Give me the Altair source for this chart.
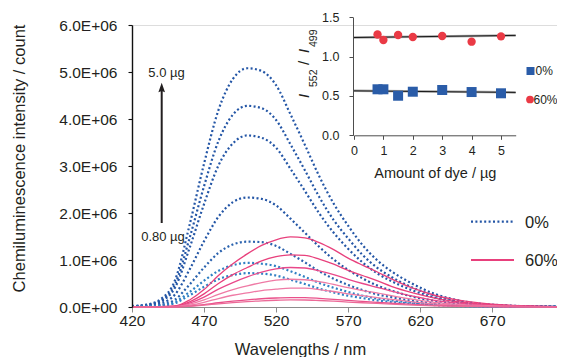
import altair as alt
import pandas as pd

# ---------------- data (intensity in units of 1E+06 counts) ----------------
WL = [420, 430, 440, 450, 460, 470, 480, 490, 500, 510, 520, 530, 540,
      550, 560, 570, 580, 590, 600, 615, 630, 650, 675, 700, 715]

# 0 % curves (dotted blue), from 5.0 ug down to 0.80 ug
B1 = [0.02, 0.05, 0.17, 0.58, 1.75, 3.05, 4.19, 4.85, 5.08, 5.02, 4.72, 4.10, 3.45,
      2.78, 2.20, 1.73, 1.32, 1.00, 0.76, 0.49, 0.28, 0.12, 0.04, 0.015, 0.01]
B2 = [0.017, 0.043, 0.14, 0.49, 1.47, 2.57, 3.53, 4.09, 4.28, 4.23, 3.98, 3.46, 2.91,
      2.34, 1.85, 1.46, 1.11, 0.84, 0.64, 0.41, 0.24, 0.10, 0.034, 0.013, 0.009]
B3 = [0.015, 0.037, 0.12, 0.42, 1.26, 2.19, 3.01, 3.48, 3.65, 3.60, 3.39, 2.94, 2.47,
      1.99, 1.58, 1.24, 0.95, 0.72, 0.55, 0.35, 0.20, 0.088, 0.029, 0.011, 0.007]
B4 = [0.009, 0.023, 0.077, 0.27, 0.80, 1.40, 1.92, 2.23, 2.33, 2.30, 2.16, 1.88, 1.58,
      1.28, 1.01, 0.79, 0.61, 0.46, 0.35, 0.22, 0.13, 0.056, 0.019, 0.007, 0.005]
B5 = [0.006, 0.014, 0.046, 0.16, 0.48, 0.84, 1.15, 1.33, 1.39, 1.38, 1.30, 1.13, 0.95,
      0.76, 0.60, 0.47, 0.36, 0.27, 0.21, 0.13, 0.077, 0.034, 0.011, 0.004, 0.003]
B6 = [0.004, 0.009, 0.031, 0.11, 0.32, 0.56, 0.77, 0.89, 0.94, 0.92, 0.87, 0.76, 0.64,
      0.51, 0.41, 0.32, 0.24, 0.18, 0.14, 0.09, 0.052, 0.023, 0.008, 0.003, 0.002]
B7 = [0.003, 0.007, 0.024, 0.082, 0.25, 0.43, 0.59, 0.68, 0.72, 0.71, 0.67, 0.58, 0.49,
      0.39, 0.31, 0.24, 0.19, 0.14, 0.11, 0.07, 0.04, 0.017, 0.006, 0.002, 0.001]

# 60 % curves (solid pink)
P1 = [0.0, 0.003, 0.009, 0.022, 0.15, 0.37, 0.67, 0.92, 1.13, 1.31, 1.43, 1.49, 1.47,
      1.37, 1.22, 1.04, 0.89, 0.75, 0.60, 0.40, 0.25, 0.13, 0.05, 0.019, 0.01]
P2 = [0.0, 0.002, 0.007, 0.017, 0.11, 0.28, 0.50, 0.69, 0.84, 0.98, 1.07, 1.11, 1.10,
      1.02, 0.91, 0.78, 0.67, 0.56, 0.44, 0.30, 0.19, 0.097, 0.038, 0.014, 0.008]
P3 = [0.0, 0.002, 0.005, 0.013, 0.084, 0.21, 0.38, 0.52, 0.64, 0.74, 0.81, 0.84, 0.83,
      0.77, 0.69, 0.59, 0.50, 0.42, 0.34, 0.23, 0.14, 0.073, 0.029, 0.011, 0.006]
P4 = [0.0, 0.001, 0.004, 0.009, 0.059, 0.15, 0.27, 0.37, 0.45, 0.52, 0.57, 0.59, 0.58,
      0.54, 0.48, 0.41, 0.35, 0.30, 0.24, 0.16, 0.10, 0.051, 0.02, 0.008, 0.004]
P5 = [0.0, 0.001, 0.002, 0.006, 0.04, 0.10, 0.18, 0.25, 0.30, 0.35, 0.38, 0.40, 0.40,
      0.37, 0.33, 0.28, 0.24, 0.20, 0.16, 0.11, 0.068, 0.035, 0.014, 0.005, 0.003]
P6 = [0.0, 0.0, 0.001, 0.003, 0.02, 0.05, 0.09, 0.124, 0.152, 0.176, 0.192, 0.20, 0.198,
      0.184, 0.164, 0.14, 0.12, 0.10, 0.08, 0.054, 0.034, 0.017, 0.007, 0.003, 0.001]
P7 = [0.0, 0.0, 0.001, 0.002, 0.015, 0.038, 0.068, 0.093, 0.114, 0.132, 0.144, 0.15, 0.149,
      0.138, 0.123, 0.105, 0.09, 0.075, 0.06, 0.041, 0.026, 0.013, 0.005, 0.002, 0.001]

BLUE_NAMES = ["b1", "b2", "b3", "b4", "b5", "b6", "b7"]
PINK_NAMES = ["p1", "p2", "p3", "p4", "p5", "p6", "p7"]
BLUE_SERIES = [B1, B2, B3, B4, B5, B6, B7]
PINK_SERIES = [P1, P2, P3, P4, P5, P6, P7]
BLUE_COLORS = ["#2456a6", "#2456a6", "#2456a6", "#2456a6", "#2a62ae", "#3080c4", "#3080c4"]
PINK_COLORS = ["#e8407c", "#e8407c", "#e9488a", "#ef7aa5", "#ef7aa5", "#e9508a", "#ec6a98"]

# inset: ratio I552/I499 vs amount of dye
DYE = [0.8, 1.0, 1.5, 2.0, 3.0, 4.0, 5.0]
RATIO_0 = [0.585, 0.585, 0.503, 0.554, 0.576, 0.55, 0.534]
RATIO_60 = [1.281, 1.211, 1.275, 1.25, 1.262, 1.19, 1.258]
FIT_X = [0.0, 5.5]
FIT_0 = [0.565, 0.545]
FIT_60 = [1.243, 1.27]

Y_TICKS = [0, 1, 2, 3, 4, 5, 6]
X_TICKS = [420, 470, 520, 570, 620, 670]


def long_df(names, series):
    rows = []
    for n, vals in zip(names, series):
        for w, v in zip(WL, vals):
            rows.append({"curve": n, "wl": w, "val": v})
    return pd.DataFrame(rows)


blue_df = long_df(BLUE_NAMES, BLUE_SERIES)
pink_df = long_df(PINK_NAMES, PINK_SERIES)
pts0 = pd.DataFrame({"dye": DYE, "r": RATIO_0})
pts60 = pd.DataFrame({"dye": DYE, "r": RATIO_60})
fit_df = pd.DataFrame({"x": FIT_X, "f0": FIT_0, "f60": FIT_60})

TXT = "#231f20"
FONT = "Liberation Sans"

xscale = alt.Scale(domain=[420, 715], nice=False)
yscale = alt.Scale(domain=[0, 6], nice=False)
xaxis = alt.Axis(values=X_TICKS, grid=False, tickSize=5, labelPadding=1, labelFlush=False,
                 domainColor="#8c8c8c", tickColor="#8c8c8c", domainWidth=1.2,
                 labelColor=TXT, labelFontSize=15.5, title="Wavelengths / nm",
                 titleFontSize=16.5, titleFontWeight="normal", titleColor=TXT,
                 titleX=168, titleY=47, titleBaseline="alphabetic", titleAlign="center")
yaxis = alt.Axis(values=Y_TICKS, grid=False, tickSize=4, labelPadding=11, labelFlush=False,
                 domain=True, domainColor="#111111", domainWidth=1.4, domainOpacity=1,
                 tickColor="#111111", tickWidth=1.1, labelColor=TXT, labelFontSize=15.5,
                 labelExpr="format(datum.value, '.1f') + (datum.value == 0 ? 'E+00' : 'E+06')",
                 title="Chemiluminescence intensity / count", titleFontSize=16.5,
                 titleFontWeight="normal", titleColor=TXT, titleX=-112.5, titleY=133,
                 titleAngle=270, titleBaseline="middle", titleAlign="center", zindex=5)

blue = alt.Chart(blue_df).mark_line(
    strokeDash=[2, 2.4], strokeWidth=2.2, interpolate="monotone"
).encode(
    x=alt.X("wl:Q", scale=xscale, axis=xaxis),
    y=alt.Y("val:Q", scale=yscale, axis=yaxis),
    color=alt.Color("curve:N", scale=alt.Scale(domain=BLUE_NAMES + PINK_NAMES,
                                               range=BLUE_COLORS + PINK_COLORS), legend=None),
    detail="curve:N",
)
pink = alt.Chart(pink_df).mark_line(strokeWidth=1.3, interpolate="monotone").encode(
    x=alt.X("wl:Q", scale=xscale, axis=xaxis),
    y=alt.Y("val:Q", scale=yscale, axis=yaxis),
    color=alt.Color("curve:N", legend=None),
    detail="curve:N",
)

# arrow annotation
arrow_line = alt.Chart().mark_rule(color=TXT, strokeWidth=2).encode(
    x=alt.value(29.7), y=alt.value(65), y2=alt.value(198))
arrow_head = alt.Chart().mark_point(
    shape="M0,-1L0.7,1L0,0.75L-0.7,1Z", filled=True, color=TXT, opacity=1, size=90
).encode(x=alt.value(29.7), y=alt.value(62.5))
lbl_top = alt.Chart().mark_text(text="5.0 µg", fontSize=13, font=FONT, color=TXT,
                                align="center", baseline="alphabetic").encode(
    x=alt.value(34.5), y=alt.value(52.3))
lbl_bot = alt.Chart().mark_text(text="0.80 µg", fontSize=13, font=FONT, color=TXT,
                                align="center", baseline="alphabetic").encode(
    x=alt.value(31), y=alt.value(215.5))

# main legend
leg_b = alt.Chart().mark_rule(strokeDash=[2, 2.4], strokeWidth=2.2, color="#2456a6").encode(
    x=alt.value(339), x2=alt.value(382), y=alt.value(196.7))
leg_p = alt.Chart().mark_rule(strokeWidth=2, color="#e8407c").encode(
    x=alt.value(339), x2=alt.value(382), y=alt.value(235))
leg_bt = alt.Chart().mark_text(text="0%", fontSize=16.5, font=FONT, color=TXT,
                               align="left", baseline="middle").encode(
    x=alt.value(393), y=alt.value(197.5))
leg_pt = alt.Chart().mark_text(text="60%", fontSize=16.5, font=FONT, color=TXT,
                               align="left", baseline="middle").encode(
    x=alt.value(393), y=alt.value(236))

# inset legend
ileg_sq = alt.Chart().mark_point(shape="square", filled=True, color="#2a5ca8", opacity=1,
                                 size=64).encode(x=alt.value(398.5), y=alt.value(46))
ileg_ci = alt.Chart().mark_point(shape="circle", filled=True, color="#ea3a45", opacity=1,
                                 size=60).encode(x=alt.value(398), y=alt.value(74.5))
ileg_t0 = alt.Chart().mark_text(text="0%", fontSize=12, font=FONT, color=TXT,
                                align="left", baseline="middle").encode(
    x=alt.value(403.5), y=alt.value(46.3))
ileg_t6 = alt.Chart().mark_text(text="60%", fontSize=12, font=FONT, color=TXT,
                                align="left", baseline="middle").encode(
    x=alt.value(401.5), y=alt.value(74.5))

# inset y title: I552 / I499 (italic I, subscripts)
def rot(text, x, y, size, style="normal"):
    return alt.Chart().mark_text(text=text, fontSize=size, font=FONT, color=TXT,
                                 fontStyle=style, angle=270, align="left",
                                 baseline="alphabetic").encode(x=alt.value(x), y=alt.value(y))

ytitle = [rot("I", 177, 73, 15, "italic"), rot("552", 185, 62, 10.5),
          rot("/", 177, 40, 15), rot("I", 177, 28, 15, "italic"), rot("499", 185, 22, 10.5)]

main = alt.layer(blue, pink, arrow_line, arrow_head, lbl_top, lbl_bot,
                 leg_b, leg_p, leg_bt, leg_pt, ileg_sq, ileg_ci, ileg_t0, ileg_t6, *ytitle)

# inset
ixscale = alt.Scale(domain=[0, 5.5], nice=False, range=[222, 383.7])
iyscale = alt.Scale(domain=[0, 1.5], nice=False, range=[110.3, -7.7])
ixaxis = alt.Axis(values=[0, 1, 2, 3, 4, 5], grid=False, orient="bottom", offset=-171.7,
                  tickSize=4, labelPadding=5, labelFlush=False, domainColor="#4d4d4d",
                  tickColor="#4d4d4d", labelColor=TXT, labelFontSize=12.5,
                  title="Amount of dye / µg", titleFontSize=14.5, titleFontWeight="normal",
                  titleColor=TXT, titleY=42, titleBaseline="alphabetic")
iyaxis = alt.Axis(values=[0, 0.5, 1.0, 1.5], format=".1f", grid=False, orient="left",
                  offset=-221, tickSize=4, labelPadding=10, labelFlush=False,
                  domainColor="#4d4d4d", tickColor="#4d4d4d", labelColor=TXT,
                  labelFontSize=12.5, title=None)

ibase = alt.Chart(fit_df)
fit_gray0 = ibase.mark_line(color="#a6a6a6", strokeWidth=2.5).encode(
    x=alt.X("x:Q", scale=ixscale, axis=ixaxis), y=alt.Y("f0:Q", scale=iyscale, axis=iyaxis))
fit_gray6 = ibase.mark_line(color="#a6a6a6", strokeWidth=2.5).encode(
    x=alt.X("x:Q", scale=ixscale, axis=ixaxis), y=alt.Y("f60:Q", scale=iyscale, axis=iyaxis))
fit_blk0 = ibase.mark_line(color="#1a1a1a", strokeWidth=1).encode(
    x=alt.X("x:Q", scale=ixscale, axis=ixaxis), y=alt.Y("f0:Q", scale=iyscale, axis=iyaxis))
fit_blk6 = ibase.mark_line(color="#1a1a1a", strokeWidth=1).encode(
    x=alt.X("x:Q", scale=ixscale, axis=ixaxis), y=alt.Y("f60:Q", scale=iyscale, axis=iyaxis))
sq = alt.Chart(pts0).mark_point(shape="square", filled=True, color="#2a5ca8", opacity=1,
                                size=100).encode(
    x=alt.X("dye:Q", scale=ixscale, axis=ixaxis), y=alt.Y("r:Q", scale=iyscale, axis=iyaxis))
ci = alt.Chart(pts60).mark_point(shape="circle", filled=True, color="#ea3a45", opacity=1,
                                 size=70).encode(
    x=alt.X("dye:Q", scale=ixscale, axis=ixaxis), y=alt.Y("r:Q", scale=iyscale, axis=iyaxis))

inset = alt.layer(fit_gray0, fit_gray6, fit_blk0, fit_blk6, sq, ci)

chart = alt.layer(main, inset).resolve_scale(
    x="independent", y="independent"
).properties(
    width=425, height=282,
    autosize=alt.AutoSizeParams(type="none"),
    padding={"left": 124, "top": 17, "right": 0, "bottom": 50},
).configure_view(stroke=None).configure(font=FONT)

chart.save("out.html", embed_options={"renderer": "svg", "actions": False})
